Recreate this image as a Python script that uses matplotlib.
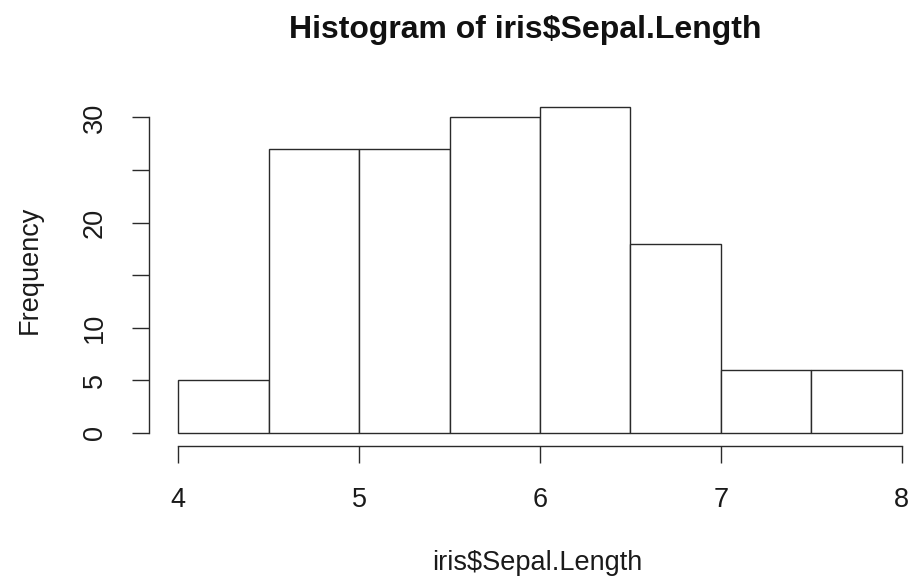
import matplotlib
matplotlib.use("Agg")
import matplotlib.pyplot as plt

plt.rcParams['font.family'] = ['Liberation Sans', 'DejaVu Sans']

bin_edges = [4.0, 4.5, 5.0, 5.5, 6.0, 6.5, 7.0, 7.5, 8.0]
counts = [5, 27, 27, 30, 31, 18, 6, 6]
x_ticks = [4, 5, 6, 7, 8]
y_ticks = [0, 5, 10, 15, 20, 25, 30]
y_ticklabels = ['0', '5', '10', '', '20', '', '30']
title = "Histogram of iris$Sepal.Length"
xlabel = "iris$Sepal.Length"
ylabel = "Frequency"

W, H = 913, 585
fig = plt.figure(figsize=(W / 100, H / 100), dpi=100)
fig.patch.set_facecolor('white')

left, right, top, bottom = 149.4, 930.6, 93.9, 445.7
ax = fig.add_axes([left / W, 1 - bottom / H, (right - left) / W, (bottom - top) / H])

lc = '#2a2a2a'
widths = [bin_edges[i + 1] - bin_edges[i] for i in range(len(counts))]
ax.bar(bin_edges[:-1], counts, width=widths, align='edge', facecolor='white',
       edgecolor=lc, linewidth=1.0)

ax.set_xlim(3.84, 8.16)
ax.set_ylim(-1.24, 32.24)

for s in ['top', 'right']:
    ax.spines[s].set_visible(False)
ax.spines['left'].set_bounds(0, 30)
ax.spines['bottom'].set_bounds(4, 8)
for s in ['left', 'bottom']:
    ax.spines[s].set_color(lc)
    ax.spines[s].set_linewidth(1.0)

ax.set_xticks(x_ticks)
ax.set_xticklabels([str(t) for t in x_ticks])
ax.set_yticks(y_ticks)
ax.set_yticklabels(y_ticklabels, rotation=90, va='center')
ax.tick_params(axis='both', length=12, width=1.0, color=lc, labelsize=19.5, labelcolor='#1a1a1a')
ax.tick_params(axis='x', pad=18)
ax.tick_params(axis='y', pad=18)

def px(x, y):
    return x / W, 1 - y / H

fig.text(*px(525, 30), title, ha='center', va='center', fontsize=23, fontweight='bold', color='#111111')
fig.text(*px(537, 563), xlabel, ha='center', va='center', fontsize=19.5, color='#1a1a1a')
fig.text(*px(30, 270), ylabel, ha='center', va='center', rotation=90, fontsize=19.5, color='#1a1a1a')

fig.savefig('out.png', dpi=100, facecolor='white')
